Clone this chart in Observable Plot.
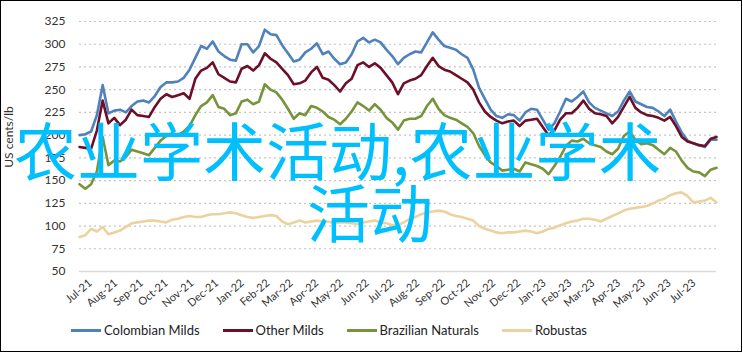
<!DOCTYPE html>
<html>
<head>
<meta charset="utf-8">
<script src="https://cdn.jsdelivr.net/npm/d3@7"></script>
<script src="https://cdn.jsdelivr.net/npm/@observablehq/plot@0.6"></script>
<style>
  html, body { margin: 0; padding: 0; background: #fff; }
  body { position: relative; width: 743px; height: 352px; overflow: hidden; font-family: Lato, "Open Sans", sans-serif; }
  #chart { position: absolute; left: 0; top: 0; }
  #frame { position: absolute; left: 0; top: 0; width: 742px; height: 352px; border: 1.5px solid #000; box-sizing: border-box; pointer-events: none; }
  #ytitle { position: absolute; left: 8px; top: 137px; transform: translate(-50%, -50%) rotate(-90deg); font-size: 12px; color: #333; white-space: nowrap; }
  #legend { position: absolute; left: 71px; top: 322px; display: flex; gap: 23px; align-items: center; font-size: 13px; color: #222; }
  #legend .item { display: flex; align-items: center; gap: 3px; }
  #legend .sw { width: 30px; height: 3px; }
  #wm { position: absolute; left: 0; top: 0; font-family: "Noto Sans CJK SC", sans-serif; font-size: 63px; line-height: 63px; color: #00bfff; white-space: nowrap; pointer-events: none; }
  #wm .l1 { position: absolute; left: 14px; top: 116px; }
  #wm .l2 { position: absolute; left: 307px; top: 178px; }
</style>
</head>
<body>
<div id="chart"></div>
<div id="ytitle">US cents/lb</div>
<div id="legend"></div>
<div id="wm"><span class="l1">农业学术活动,农业学术</span><span class="l2">活动</span></div>
<div id="frame"></div>
<script>
// ---- data (weekly readings, US cents/lb) ----
const startDate = "2021-06-18";
const seriesNames = ["Colombian Milds", "Other Milds", "Brazilian Naturals", "Robustas"];
const seriesColors = ["#4f81bd", "#6d0f28", "#77933c", "#ebd39f"];

const colombianMilds = [
  200,201,204,222,255,224,227,228,225,232,
  237,238,236,243,253,258,258,259,263,272,
  285,298,295,303,292,287,283,282,300,300,
  291,298,316,311,310,299,290,281,283,291,
  295,301,289,292,284,278,280,289,303,307,
  302,305,302,294,287,278,285,289,292,291,
  302,313,305,298,296,294,289,285,272,252,
  240,228,221,219,223,222,216,225,229,228,
  217,206,213,226,240,237,242,248,236,230,
  227,224,221,226,238,248,237,234,231,230,
  226,221,228,215,203,194,191,189,187,195,195
];
const otherMilds = [
  187,186,185,205,238,213,219,211,217,228,
  222,221,220,231,240,245,242,244,246,240,
  262,271,274,280,267,263,259,258,273,276,
  271,277,290,284,280,273,266,256,257,260,
  269,275,263,261,255,248,257,262,277,280,
  275,279,274,266,258,245,257,260,262,266,
  276,285,276,272,270,266,262,258,250,236,
  226,220,216,213,215,216,210,216,217,218,
  209,200,205,217,224,224,230,238,229,224,
  223,221,213,220,231,242,230,225,222,221,
  219,216,220,210,198,193,191,189,188,196,198
];
const brazilianNaturals = [
  146,141,146,160,198,167,172,171,176,184,
  182,180,178,186,194,199,202,200,204,210,
  222,232,236,244,231,229,222,224,237,239,
  234,237,256,250,247,239,229,218,224,222,
  232,230,226,220,217,212,218,226,236,232,
  227,234,228,219,214,206,216,218,218,221,
  232,240,229,222,219,217,213,209,202,188,
  178,170,166,161,162,163,160,170,168,166,
  163,157,166,176,188,194,193,196,191,189,
  187,182,179,185,199,204,195,190,191,189,
  184,179,186,182,172,164,160,159,155,162,164
];
const robustas = [
  88,90,97,94,99,91,93,95,99,103,
  104,105,106,106,105,104,107,108,110,111,
  110,110,112,113,113,114,115,114,112,110,
  109,110,111,112,111,105,102,104,106,104,
  105,106,105,105,103,104,104,103,102,104,
  105,106,104,103,101,101,104,108,110,113,
  115,116,117,116,113,111,110,108,106,100,
  97,95,93,92,93,93,94,95,94,92,
  94,97,98,101,103,105,106,108,108,107,
  105,108,111,114,117,119,120,121,122,125,
  128,130,134,136,137,133,126,127,128,131,126
];
const yTicks = [50, 75, 100, 125, 150, 175, 200, 225, 250, 275, 300, 325];
const xTickMonths = [
  "2021-07-01","2021-08-01","2021-09-01","2021-10-01","2021-11-01","2021-12-01",
  "2022-01-01","2022-02-01","2022-03-01","2022-04-01","2022-05-01","2022-06-01",
  "2022-07-01","2022-08-01","2022-09-01","2022-10-01","2022-11-01","2022-12-01",
  "2023-01-01","2023-02-01","2023-03-01","2023-04-01","2023-05-01","2023-06-01","2023-07-01"
];

// ---- build table ----
const start = new Date(startDate + "T00:00:00Z");
const allSeries = [colombianMilds, otherMilds, brazilianNaturals, robustas];
const rows = [];
allSeries.forEach((vals, s) => {
  vals.forEach((v, i) => rows.push({date: d3.utcDay.offset(start, 7 * i), value: v, series: seriesNames[s]}));
});
const lastDate = d3.utcDay.offset(start, 7 * (colombianMilds.length - 1));
const tickDates = xTickMonths.map(s => new Date(s + "T00:00:00Z"));
const fmt = d3.utcFormat("%b-%y");

const chart = Plot.plot({
  width: 743,
  height: 316,
  marginLeft: 79,
  marginRight: 27,
  marginTop: 21,
  marginBottom: 45,
  style: {fontFamily: "Lato, 'Open Sans', sans-serif", background: "transparent", overflow: "visible"},
  x: {type: "utc", domain: [start, lastDate]},
  y: {domain: [50, 325]},
  color: {domain: seriesNames, range: seriesColors},
  marks: [
    Plot.ruleY(yTicks.filter(d => d !== 50), {stroke: "#c4c4c4", strokeWidth: 1.2, strokeDasharray: "2,3"}),
    Plot.ruleY([50], {stroke: "#d9d9d9", strokeWidth: 1.5}),
    Plot.axisY({ticks: yTicks, tickSize: 0, tickPadding: 14, fontSize: 12, fill: "#333", label: null}),
    Plot.axisX({ticks: tickDates, tickFormat: fmt, tickSize: 0, tickPadding: 10, tickRotate: -40, fontSize: 11, fill: "#333", label: null}),
    Plot.line(rows, {x: "date", y: "value", z: "series", stroke: "series", strokeWidth: 2.6, strokeLinejoin: "round"})
  ]
});
document.getElementById("chart").appendChild(chart);

const legend = document.getElementById("legend");
seriesNames.forEach((name, i) => {
  const item = document.createElement("div");
  item.className = "item";
  const sw = document.createElement("span");
  sw.className = "sw";
  sw.style.background = seriesColors[i];
  const t = document.createElement("span");
  t.textContent = name;
  item.appendChild(sw);
  item.appendChild(t);
  legend.appendChild(item);
});
</script>
</body>
</html>
